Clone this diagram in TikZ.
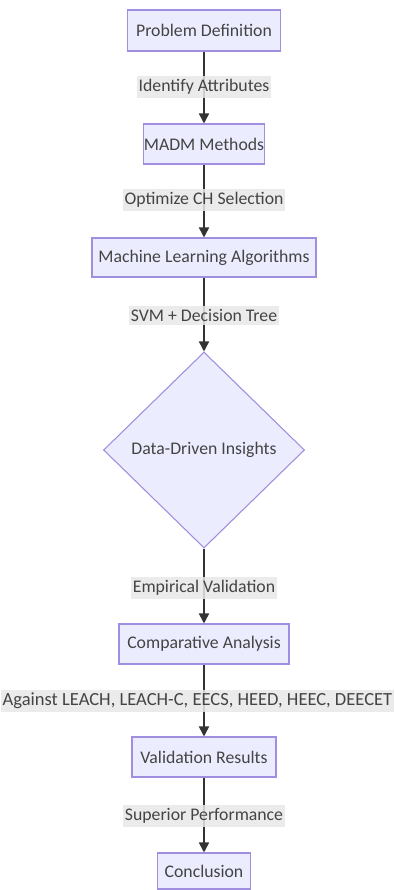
\documentclass[tikz,border=0pt]{standalone}
\usepackage{fontspec}
\setmainfont{Carlito}
\usetikzlibrary{shapes.geometric,arrows.meta}
\definecolor{nodefill}{HTML}{ECECFF}
\definecolor{nodeline}{HTML}{A08EE0}
\definecolor{edgeline}{HTML}{333333}
\definecolor{txt}{HTML}{444444}
\definecolor{lblbg}{HTML}{E8E8E8}
\begin{document}
\begin{tikzpicture}[x=0.75pt,y=-0.75pt,
  lab/.style={font=\fontsize{13.3}{16}\selectfont,text=txt},
  box/.style={lab,draw=nodeline,fill=nodefill,line width=0.8pt,inner sep=0pt},
  dia/.style={box,diamond},
  lbl/.style={lab,fill=lblbg,fill opacity=0.85,text opacity=1,inner xsep=1.5pt,inner ysep=2.5pt},
  conn/.style={draw=edgeline,line width=1.2pt,-{Triangle[length=7.5pt,width=7.5pt]}}]
\useasboundingbox (0,0) rectangle (395,890);
\fill[white] (0,0) rectangle (395,890);

\node[box,minimum width=114.75pt,minimum height=30.75pt] (p1) at (204,30.5) {Problem Definition};
\node[box,minimum width=90pt,minimum height=30pt] (p2) at (204,144) {MADM Methods};
\node[box,minimum width=168pt,minimum height=29.25pt] (p3) at (204,257.5) {Machine Learning Algorithms};
\node[dia,minimum width=150.75pt,minimum height=147pt] (p4) at (204,450) {Data-Driven Insights};
\node[box,minimum width=127.5pt,minimum height=30pt] (p5) at (204,644) {Comparative Analysis};
\node[box,minimum width=108pt,minimum height=30pt] (p6) at (204,757) {Validation Results};
\node[box,minimum width=69.75pt,minimum height=27pt] (p7) at (204,871) {Conclusion};

\draw[conn] (p1.south) -- (p1.south |- p2.north);
\draw[conn] (p2.south) -- (p2.south |- p3.north);
\draw[conn] (p3.south) -- (p4.north);
\draw[conn] (p4.south) -- (p4.south |- p5.north);
\draw[conn] (p5.south) -- (p5.south |- p6.north);
\draw[conn] (p6.south) -- (p6.south |- p7.north);

\node[lbl] (l1) at (204,87) {Identify Attributes};
\node[lbl] (l2) at (204,200) {Optimize CH Selection};
\node[lbl] (l3) at (204,315) {SVM + Decision Tree};
\node[lbl] (l4) at (204,588) {Empirical Validation};
\node[lbl,font=\fontsize{13.9}{16}\selectfont] (l5) at (197.5,701) {Against LEACH, LEACH-C, EECS, HEED, HEEC, DEECET};
\node[lbl] (l6) at (204,816) {Superior Performance};
\end{tikzpicture}
\end{document}
